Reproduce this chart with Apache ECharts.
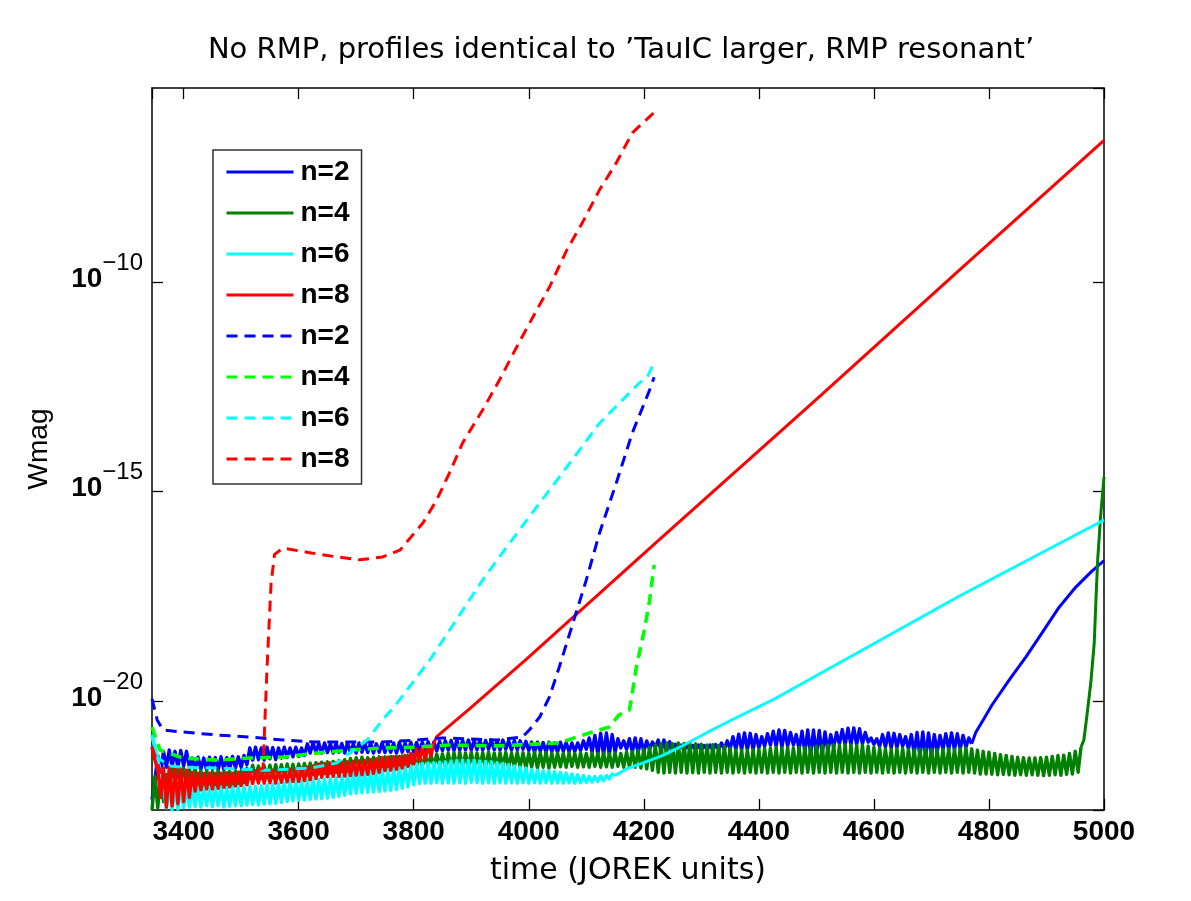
<!DOCTYPE html>
<html>
<head>
<meta charset="utf-8">
<script src="https://cdn.jsdelivr.net/npm/echarts@6/dist/echarts.min.js"></script>
<style>html,body{margin:0;padding:0;background:#fff}#chart{width:1191px;height:901px}</style>
</head>
<body>
<div id="chart"></div>
<script>
// ---- data: time (JOREK units) and log10(Wmag) ----
// sample times of the oscillating (noisy) stretches
const noiseTime = [
3345,3350,3355,3360,3365,3370,3375,3380,3385,3390,3395,3400,3405,3410,3415,3420,3425,3430,3435,3440,
3445,3450,3455,3460,3465,3470,3475,3480,3485,3490,3495,3500,3505,3510,3515,3520,3525,3530,3535,3540,
3545,3550,3555,3560,3565,3570,3575,3580,3585,3590,3595,3600,3605,3610,3615,3620,3625,3630,3635,3640,
3645,3650,3655,3660,3665,3670,3675,3680,3685,3690,3695,3700,3705,3710,3715,3720,3725,3730,3735,3740,
3745,3750,3755,3760,3765,3770,3775,3780,3785,3790,3795,3800,3805,3810,3815,3820,3825,3830,3835,3840,
3845,3850,3855,3860,3865,3870,3875,3880,3885,3890,3895,3900,3905,3910,3915,3920,3925,3930,3935,3940,
3945,3950,3955,3960,3965,3970,3975,3980,3985,3990,3995,4000,4005,4010,4015,4020,4025,4030,4035,4040,
4045,4050,4055,4060,4065,4070,4075,4080,4085,4090,4095,4100,4105,4110,4115,4120,4125,4130,4135,4140,
4145,4150,4155,4160,4165,4170,4175,4180,4185,4190,4195,4200,4205,4210,4215,4220,4225,4230,4235,4240,
4245,4250,4255,4260,4265,4270,4275,4280,4285,4290,4295,4300,4305,4310,4315,4320,4325,4330,4335,4340,
4345,4350,4355,4360,4365,4370,4375,4380,4385,4390,4395,4400,4405,4410,4415,4420,4425,4430,4435,4440,
4445,4450,4455,4460,4465,4470,4475,4480,4485,4490,4495,4500,4505,4510,4515,4520,4525,4530,4535,4540,
4545,4550,4555,4560,4565,4570,4575,4580,4585,4590,4595,4600,4605,4610,4615,4620,4625,4630,4635,4640,
4645,4650,4655,4660,4665,4670,4675,4680,4685,4690,4695,4700,4705,4710,4715,4720,4725,4730,4735,4740,
4745,4750,4755,4760,4765,4770,4775,4780,4785,4790,4795,4800,4805,4810,4815,4820,4825,4830,4835,4840,
4845,4850,4855,4860,4865,4870,4875,4880,4885,4890,4895,4900,4905,4910,4915,4920,4925,4930,4935,4940,
4945,4950,4955,4960];

// n=2 solid: oscillating stretch (3345-4770), then growth
const n2SolidNoisy = [
-22.35,-21.9,-21.3,-21.75,-21.2,-21.58,-21.17,-21.56,-21.2,-21.58,
-21.18,-21.55,-21.2,-21.58,-21.36,-21.65,-21.34,-21.63,-21.36,-21.65,
-21.34,-21.62,-21.35,-21.65,-21.33,-21.64,-21.35,-21.62,-21.32,-21.6,
-21.33,-21.58,-21.3,-21.52,-21.12,-21.41,-21.1,-21.4,-21.12,-21.41,
-21.1,-21.38,-21.11,-21.4,-21.12,-21.36,-21.1,-21.34,-21.12,-21.33,
-21.1,-21.32,-21.12,-21.3,-21.02,-21.24,-21.0,-21.22,-21.01,-21.24,
-21.0,-21.23,-21.02,-21.24,-21.0,-21.22,-21.01,-21.24,-21.0,-21.23,
-21.02,-21.24,-21.0,-21.22,-21.01,-21.23,-21.0,-21.24,-21.02,-21.22,
-21.0,-21.23,-21.01,-21.22,-21.0,-21.24,-20.99,-21.22,-21.0,-21.21,
-20.98,-21.22,-20.99,-21.2,-20.98,-21.21,-20.97,-21.2,-20.98,-21.19,
-20.96,-21.18,-20.95,-21.17,-20.94,-21.18,-20.93,-21.17,-20.94,-21.16,
-20.93,-21.17,-20.94,-21.16,-20.93,-21.17,-20.94,-21.15,-20.93,-21.16,
-20.94,-21.17,-20.93,-21.15,-20.95,-21.17,-20.94,-21.16,-20.95,-21.15,
-20.96,-21.18,-20.98,-21.22,-20.98,-21.2,-20.99,-21.22,-20.98,-21.21,
-21.0,-21.22,-20.98,-21.2,-20.99,-21.21,-21.0,-21.2,-21.0,-21.18,
-20.95,-21.15,-20.88,-21.22,-20.82,-21.27,-20.77,-21.29,-20.76,-21.28,
-20.8,-21.22,-20.9,-21.12,-20.95,-21.15,-20.9,-21.22,-20.88,-21.24,
-20.9,-21.22,-20.95,-21.15,-20.98,-21.1,-20.93,-21.2,-20.93,-21.24,
-20.97,-21.18,-21.03,-21.15,-21.05,-21.17,-21.05,-21.16,-21.06,-21.17,
-21.05,-21.17,-21.06,-21.16,-21.05,-21.17,-21.04,-21.16,-21.0,-21.15,
-20.95,-21.15,-20.85,-21.16,-20.79,-21.17,-20.76,-21.17,-20.77,-21.16,
-20.8,-21.12,-20.85,-21.08,-20.78,-21.05,-20.72,-21.08,-20.69,-21.1,
-20.7,-21.08,-20.75,-21.05,-20.8,-21.15,-20.72,-21.22,-20.69,-21.27,
-20.69,-21.29,-20.7,-21.27,-20.74,-21.2,-20.8,-21.1,-20.75,-21.03,
-20.68,-21.05,-20.65,-21.05,-20.64,-21.04,-20.66,-21.03,-20.75,-20.98,
-20.88,-21.03,-20.9,-21.08,-20.8,-21.1,-20.76,-21.12,-20.77,-21.11,
-20.8,-21.08,-20.85,-21.15,-20.8,-21.25,-20.75,-21.32,-20.74,-21.34,
-20.76,-21.3,-20.8,-21.22,-20.82,-21.15,-20.78,-21.16,-20.76,-21.17,
-20.78,-21.15,-20.82,-21.1,-20.88,-21.02];
const n2SolidTailTime = [4777,4790,4805,4835,4864,4892,4922,4951,4979,5000];
const n2SolidTail = [-20.75,-20.45,-20.1,-19.5,-18.95,-18.38,-17.76,-17.28,-16.9,-16.65];

// n=4 solid: oscillating stretch (3345-4960), then growth
const n4SolidNoisy = [
-22.6,-21.8,-22.55,-21.72,-22.4,-21.75,-22.0,-21.6,-21.96,-21.58,
-21.95,-21.6,-21.96,-21.62,-22.05,-21.65,-22.03,-21.67,-22.05,-21.66,
-22.02,-21.68,-22.04,-21.66,-22.0,-21.7,-22.03,-21.68,-22.02,-21.67,
-21.98,-21.66,-21.95,-21.6,-21.84,-21.53,-21.83,-21.55,-21.84,-21.54,
-21.82,-21.53,-21.83,-21.52,-21.8,-21.52,-21.8,-21.5,-21.79,-21.51,
-21.78,-21.5,-21.77,-21.49,-21.76,-21.48,-21.75,-21.47,-21.74,-21.46,
-21.73,-21.45,-21.72,-21.44,-21.7,-21.42,-21.69,-21.4,-21.68,-21.37,
-21.6,-21.35,-21.6,-21.34,-21.58,-21.35,-21.59,-21.34,-21.57,-21.33,
-21.58,-21.33,-21.57,-21.32,-21.58,-21.32,-21.56,-21.31,-21.55,-21.3,
-21.56,-21.3,-21.55,-21.3,-21.56,-21.29,-21.55,-21.28,-21.55,-21.27,
-21.55,-21.26,-21.58,-21.24,-21.6,-21.23,-21.58,-21.22,-21.6,-21.24,
-21.58,-21.22,-21.6,-21.24,-21.57,-21.23,-21.6,-21.22,-21.58,-21.24,
-21.6,-21.23,-21.58,-21.22,-21.6,-21.24,-21.57,-21.22,-21.58,-21.23,
-21.6,-21.24,-21.58,-21.22,-21.6,-21.23,-21.58,-21.22,-21.6,-21.24,
-21.58,-21.24,-21.57,-21.25,-21.58,-21.24,-21.56,-21.25,-21.58,-21.24,
-21.57,-21.25,-21.58,-21.24,-21.56,-21.25,-21.58,-21.24,-21.57,-21.25,
-21.58,-21.24,-21.56,-21.25,-21.58,-21.22,-21.57,-21.2,-21.58,-21.18,
-21.6,-21.15,-21.62,-21.1,-21.65,-21.05,-21.7,-21.02,-21.72,-21.0,
-21.7,-21.02,-21.72,-21.0,-21.7,-21.01,-21.72,-21.0,-21.71,-21.02,
-21.72,-21.03,-21.7,-21.05,-21.72,-21.04,-21.7,-21.06,-21.72,-21.08,
-21.7,-21.12,-21.72,-21.16,-21.7,-21.17,-21.72,-21.17,-21.7,-21.16,
-21.72,-21.15,-21.7,-21.13,-21.72,-21.12,-21.7,-21.11,-21.72,-21.12,
-21.7,-21.11,-21.72,-21.12,-21.7,-21.1,-21.72,-21.11,-21.7,-21.1,
-21.72,-21.08,-21.7,-21.06,-21.72,-21.05,-21.7,-21.04,-21.72,-21.05,
-21.7,-21.04,-21.72,-21.05,-21.7,-21.06,-21.72,-21.05,-21.7,-21.07,
-21.72,-21.1,-21.7,-21.12,-21.72,-21.14,-21.7,-21.15,-21.72,-21.14,
-21.7,-21.13,-21.72,-21.15,-21.7,-21.16,-21.72,-21.15,-21.7,-21.14,
-21.72,-21.15,-21.7,-21.16,-21.72,-21.15,-21.7,-21.14,-21.72,-21.15,
-21.7,-21.13,-21.72,-21.12,-21.7,-21.14,-21.72,-21.17,-21.74,-21.2,
-21.74,-21.22,-21.75,-21.25,-21.76,-21.28,-21.75,-21.3,-21.76,-21.32,
-21.77,-21.34,-21.76,-21.35,-21.77,-21.36,-21.76,-21.36,-21.77,-21.35,
-21.78,-21.34,-21.77,-21.32,-21.76,-21.3,-21.77,-21.29,-21.75,-21.25,
-21.74,-21.2,-21.7,-21.1];
const n4SolidTailTime = [4965,4970,4977,4983,4986,4989,4994,5000];
const n4SolidTail = [-20.93,-20.38,-19.57,-18.62,-17.59,-16.63,-15.61,-14.65];

// n=6 solid: oscillating stretch (3345-4150), then growth
const n6SolidNoisy = [
-20.8,-21.1,-21.4,-21.7,-22.05,-22.55,-22.1,-22.6,-22.05,-22.58,
-22.06,-22.55,-22.05,-22.53,-22.07,-22.52,-22.05,-22.53,-22.06,-22.5,
-22.05,-22.52,-22.07,-22.5,-22.05,-22.53,-22.06,-22.51,-22.05,-22.5,
-22.04,-22.5,-22.05,-22.48,-22.04,-22.47,-22.03,-22.48,-22.02,-22.46,
-22.0,-22.45,-21.98,-22.44,-21.97,-22.42,-21.95,-22.4,-21.92,-22.38,
-21.91,-22.37,-21.9,-22.36,-21.89,-22.35,-21.88,-22.34,-21.87,-22.33,
-21.86,-22.32,-21.85,-22.3,-21.83,-22.28,-21.8,-22.25,-21.75,-22.22,
-21.7,-22.2,-21.68,-22.19,-21.67,-22.18,-21.66,-22.17,-21.65,-22.16,
-21.64,-22.15,-21.63,-22.13,-21.62,-22.11,-21.6,-22.08,-21.58,-22.05,
-21.55,-22.0,-21.5,-21.97,-21.49,-21.96,-21.48,-21.96,-21.47,-21.95,
-21.46,-21.96,-21.45,-21.95,-21.43,-21.96,-21.42,-21.95,-21.41,-21.96,
-21.42,-21.94,-21.41,-21.95,-21.43,-21.96,-21.44,-21.95,-21.45,-21.96,
-21.47,-21.95,-21.49,-21.96,-21.52,-21.95,-21.55,-21.96,-21.58,-21.95,
-21.6,-21.96,-21.63,-21.95,-21.65,-21.96,-21.66,-21.95,-21.67,-21.96,
-21.68,-21.95,-21.7,-21.96,-21.72,-21.95,-21.74,-21.96,-21.76,-21.95,
-21.78,-21.94,-21.8,-21.93,-21.8,-21.92,-21.79,-21.9,-21.78,-21.86,
-21.74,-21.78];
const n6SolidTailTime = [4170,4200,4232,4260,4290,4320,4350,4423,4545,4748,5000];
const n6SolidTail = [-21.62,-21.47,-21.3,-21.12,-20.9,-20.68,-20.47,-19.98,-19.05,-17.5,-15.68];

// n=8 solid: oscillating stretch (3345-3835), then growth
const n8SolidNoisy = [
-21.1,-21.4,-21.65,-22.3,-21.6,-22.53,-21.58,-22.5,-21.6,-22.45,
-21.62,-22.4,-21.65,-22.3,-21.7,-22.15,-21.72,-22.12,-21.73,-22.1,
-21.72,-22.1,-21.73,-22.08,-21.72,-22.06,-21.71,-22.05,-21.72,-22.03,
-21.7,-22.02,-21.7,-22.0,-21.67,-21.97,-21.66,-21.96,-21.65,-21.96,
-21.66,-21.95,-21.65,-21.96,-21.64,-21.94,-21.65,-21.93,-21.63,-21.92,
-21.62,-21.92,-21.6,-21.9,-21.58,-21.88,-21.55,-21.85,-21.5,-21.82,
-21.49,-21.81,-21.48,-21.8,-21.47,-21.8,-21.46,-21.79,-21.45,-21.78,
-21.44,-21.77,-21.43,-21.76,-21.42,-21.75,-21.4,-21.73,-21.38,-21.7,
-21.35,-21.66,-21.34,-21.65,-21.33,-21.63,-21.32,-21.6,-21.3,-21.56,
-21.25,-21.5,-21.15,-21.42,-21.1,-21.4,-21.08,-21.3,-21.0];
const n8SolidTailTime = [3840,3900,3996,4227,4500,4750,5000];
const n8SolidTail = [-20.85,-20.15,-19.0,-16.15,-12.8,-9.7,-6.62];

// dashed runs
const n2DashedTime = [3345,3354,3364,3399,3458,3515,3573,3632,3689,3746,3805,3850,3944,3989,4001,4019,4036,4053,4100,4123,4152,4180,4210,4218];
const n2Dashed = [-19.95,-20.45,-20.69,-20.74,-20.81,-20.86,-20.93,-20.98,-20.98,-20.98,-20.93,-20.88,-20.93,-20.86,-20.69,-20.38,-19.9,-19.19,-17.11,-15.99,-14.8,-13.6,-12.58,-12.27];

const n4DashedTime = [3345,3359,3399,3458,3515,3573,3632,3689,3746,3805,3862,3944,4053,4083,4111,4140,4157,4175,4180,4187,4201,4210,4218];
const n4Dashed = [-20.62,-21.17,-21.36,-21.41,-21.36,-21.34,-21.24,-21.17,-21.12,-21.1,-21.05,-21.07,-21.0,-20.86,-20.74,-20.62,-20.33,-20.21,-19.81,-19.19,-18.3,-17.6,-16.75];

const n6DashedTime = [3345,3355,3375,3399,3458,3545,3620,3666,3689,3719,3746,3771,3828,3920,3949,4006,4066,4123,4192,4206,4218];
const n6Dashed = [-20.86,-21.35,-21.55,-21.58,-21.6,-21.65,-21.6,-21.48,-21.24,-20.93,-20.45,-20.05,-19.02,-17.11,-16.56,-15.51,-14.42,-13.37,-12.41,-12.27,-11.93];

const n8DashedTime = [3345,3360,3400,3450,3500,3538,3545,3552,3558,3573,3619,3666,3706,3746,3776,3798,3816,3840,3862,3885,3920,3949,3979,4007,4036,4066,4093,4123,4152,4180,4222];
const n8Dashed = [-21.1,-21.7,-21.85,-21.85,-21.8,-21.6,-19.2,-17.2,-16.5,-16.35,-16.46,-16.56,-16.63,-16.56,-16.4,-16.04,-15.75,-15.2,-14.56,-13.84,-13.05,-12.34,-11.55,-10.84,-10.12,-9.24,-8.59,-7.8,-7.16,-6.44,-5.9];

const legendNames = ['n=2','n=4','n=6','n=8','n=2 dashed','n=4 dashed','n=6 dashed','n=8 dashed'];
const titleText = 'No RMP, profiles identical to ’TauIC larger, RMP resonant’';

// ---- build ----
const FONT = '"Liberation Sans", Arial, Helvetica, sans-serif';
const WIDEFONT = '"DejaVu Sans", "Liberation Sans", sans-serif';
function pairs(t, v) { return t.map((x, i) => [x, v[i]]); }
function lineSeries(name, data, color, width, dashed) {
  return {
    name, type: 'line', data, showSymbol: false, symbol: 'none',
    lineStyle: { color, width, type: dashed ? [11, 7] : 'solid', join: 'round' },
    itemStyle: { color },
    emphasis: { disabled: true }, silent: true
  };
}
// a solid run is drawn as its oscillating (noisy) stretch plus its smooth growth stretch
function solidRun(name, noisy, tailT, tailV, color) {
  const noisyPts = pairs(noiseTime.slice(0, noisy.length), noisy);
  const tailPts = [noisyPts[noisyPts.length - 1]].concat(pairs(tailT, tailV));
  return [lineSeries(name, noisyPts, color, 3.4, false), lineSeries(name, tailPts, color, 3, false)];
}
const BLUE = '#0000ff', DGREEN = '#008000', CYAN = '#00ffff', RED = '#ff0000', LGREEN = '#00ff00';

const series = [].concat(
  solidRun(legendNames[0], n2SolidNoisy, n2SolidTailTime, n2SolidTail, BLUE),
  solidRun(legendNames[1], n4SolidNoisy, n4SolidTailTime, n4SolidTail, DGREEN),
  solidRun(legendNames[2], n6SolidNoisy, n6SolidTailTime, n6SolidTail, CYAN),
  solidRun(legendNames[3], n8SolidNoisy, n8SolidTailTime, n8SolidTail, RED),
  [
    lineSeries(legendNames[4], pairs(n2DashedTime, n2Dashed), BLUE, 3, true),
    lineSeries(legendNames[5], pairs(n4DashedTime, n4Dashed), LGREEN, 3.6, true),
    lineSeries(legendNames[6], pairs(n6DashedTime, n6Dashed), CYAN, 3, true),
    lineSeries(legendNames[7], pairs(n8DashedTime, n8Dashed), RED, 3, true)
  ]
);

const X_MIN = 3345, X_MAX = 5000, Y_MIN = -22.6, Y_MAX = -5.37;
const axisLineStyle = { color: '#000', width: 1.5 };
const tickStyle = { inside: true, length: 11, lineStyle: { color: '#000', width: 1.3 } };

const option = {
  animation: false,
  backgroundColor: '#fff',
  title: {
    text: titleText, left: 616, top: 31, textAlign: 'center',
    textStyle: { fontFamily: WIDEFONT, fontSize: 29, fontWeight: 'normal', color: '#000' }
  },
  grid: { left: 152, right: 87, top: 88, bottom: 91, containLabel: false },
  legend: {
    data: legendNames, orient: 'vertical', left: 213, top: 150,
    itemWidth: 67, itemHeight: 14, itemGap: 13,
    padding: [8, 12, 11, 12],
    backgroundColor: '#fff', borderColor: '#333', borderWidth: 1.5, borderRadius: 0,
    selectedMode: false,
    lineStyle: { width: 3 },
    itemStyle: { color: 'rgba(0,0,0,0)', borderWidth: 0, opacity: 0 },
    formatter: n => n.split(' ')[0],
    textStyle: { fontFamily: FONT, fontSize: 28, fontWeight: 'bold', color: '#000', lineHeight: 28, padding: [0, 0, 0, 2] }
  },
  xAxis: [{
    type: 'value', position: 'bottom', min: X_MIN, max: X_MAX, splitNumber: 8,
    axisLine: { onZero: false, lineStyle: axisLineStyle },
    axisTick: tickStyle,
    splitLine: { show: false },
    axisLabel: { margin: 8, fontFamily: FONT, fontSize: 28, fontWeight: 'bold', color: '#000',
                 showMinLabel: false, formatter: v => String(v) },
    name: 'time (JOREK units)', nameLocation: 'middle', nameGap: 46,
    nameTextStyle: { fontFamily: WIDEFONT, fontSize: 30, color: '#000' }
  }, {
    type: 'value', position: 'top', min: X_MIN, max: X_MAX, splitNumber: 8,
    axisLine: { onZero: false, lineStyle: axisLineStyle },
    axisTick: tickStyle, splitLine: { show: false }, axisLabel: { show: false }
  }],
  yAxis: [{
    type: 'value', position: 'left', min: Y_MIN, max: Y_MAX, splitNumber: 4,
    axisLine: { onZero: false, lineStyle: axisLineStyle },
    axisTick: tickStyle,
    splitLine: { show: false },
    axisLabel: {
      margin: 9, showMinLabel: false, showMaxLabel: false,
      formatter: v => (Math.abs(v % 5) < 1e-6 ? '{b|10}{s|−' + Math.abs(v) + '}' : ''),
      rich: {
        b: { fontFamily: FONT, fontSize: 28, fontWeight: 'bold', color: '#000', lineHeight: 28, padding: [0, 0, 6, 0] },
        s: { fontFamily: FONT, fontSize: 24, fontWeight: 'normal', color: '#000', lineHeight: 24, padding: [0, 0, 38, 0] }
      }
    },
    name: 'Wmag', nameLocation: 'middle', nameGap: 99,
    nameTextStyle: { fontFamily: FONT, fontSize: 28, color: '#000' }
  }, {
    type: 'value', position: 'right', min: Y_MIN, max: Y_MAX, splitNumber: 4,
    axisLine: { onZero: false, lineStyle: axisLineStyle },
    axisTick: tickStyle, splitLine: { show: false }, axisLabel: { show: false }
  }],
  series
};

const chart = echarts.init(document.getElementById('chart'), null, { renderer: 'canvas' });
chart.setOption(option);
</script>
</body>
</html>
